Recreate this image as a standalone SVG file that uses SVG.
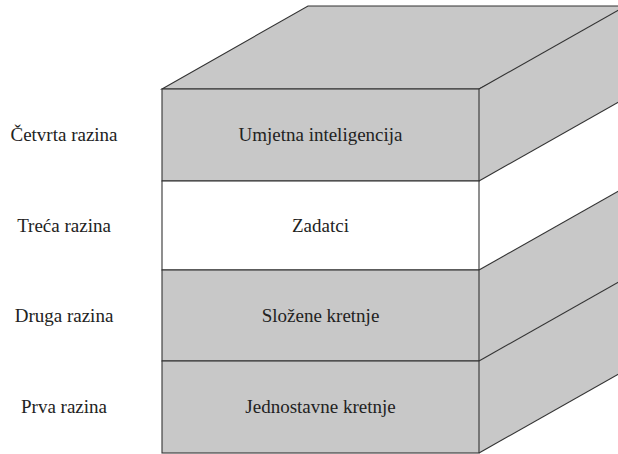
<svg xmlns="http://www.w3.org/2000/svg" width="618" height="454" viewBox="0 0 618 454">
<style>
.g{fill:#c8c8c8;stroke:#333;stroke-width:1.1}
.w{fill:#fff;stroke:#333;stroke-width:1.1}
.ln{fill:none;stroke:#333;stroke-width:1.1}
.t{font-family:'Liberation Serif','DejaVu Serif','Times New Roman',Times,serif;font-size:19px;fill:#222;text-anchor:middle}
</style>
<rect width="618" height="454" fill="#fff"/>
<g id="top-face">
<polygon class="g" points="162,89 308,6 640,6 479,89"/>
</g>
<g id="layer4">
<polygon points="479,89 640,-2 640,90 479,181" fill="#c8c8c8"/>
<rect class="g" x="162" y="89" width="317" height="92"/>
<text class="t" x="320.5" y="141" font-family="Liberation Serif, serif">Umjetna inteligencija</text>
</g>
<g id="layer3">
<rect class="w" x="162" y="181" width="317" height="89"/>
<text class="t" x="320.5" y="232">Zadatci</text>
</g>
<g id="layer2">
<polygon points="479,270 640,179 640,270 479,361" fill="#c8c8c8"/>
<rect class="g" x="162" y="270" width="317" height="91"/>
<text class="t" x="320.5" y="322">Složene kretnje</text>
</g>
<g id="layer1">
<polygon points="479,361 640,270 640,362 479,453" fill="#c8c8c8"/>
<rect class="g" x="162" y="361" width="317" height="92"/>
<text class="t" x="320.5" y="413">Jednostavne kretnje</text>
</g>
<g id="connectors">
<line class="ln" x1="479" y1="89" x2="640" y2="-2"/>
<line class="ln" x1="479" y1="181" x2="640" y2="90"/>
<line class="ln" x1="479" y1="270" x2="640" y2="179"/>
<line class="ln" x1="479" y1="361" x2="640" y2="270"/>
<line class="ln" x1="479" y1="453" x2="640" y2="362"/>
</g>
<g id="labels">
<text class="t" x="64" y="141">Četvrta razina</text>
<text class="t" x="64" y="232">Treća razina</text>
<text class="t" x="64" y="322">Druga razina</text>
<text class="t" x="64" y="413">Prva razina</text>
</g>
</svg>
